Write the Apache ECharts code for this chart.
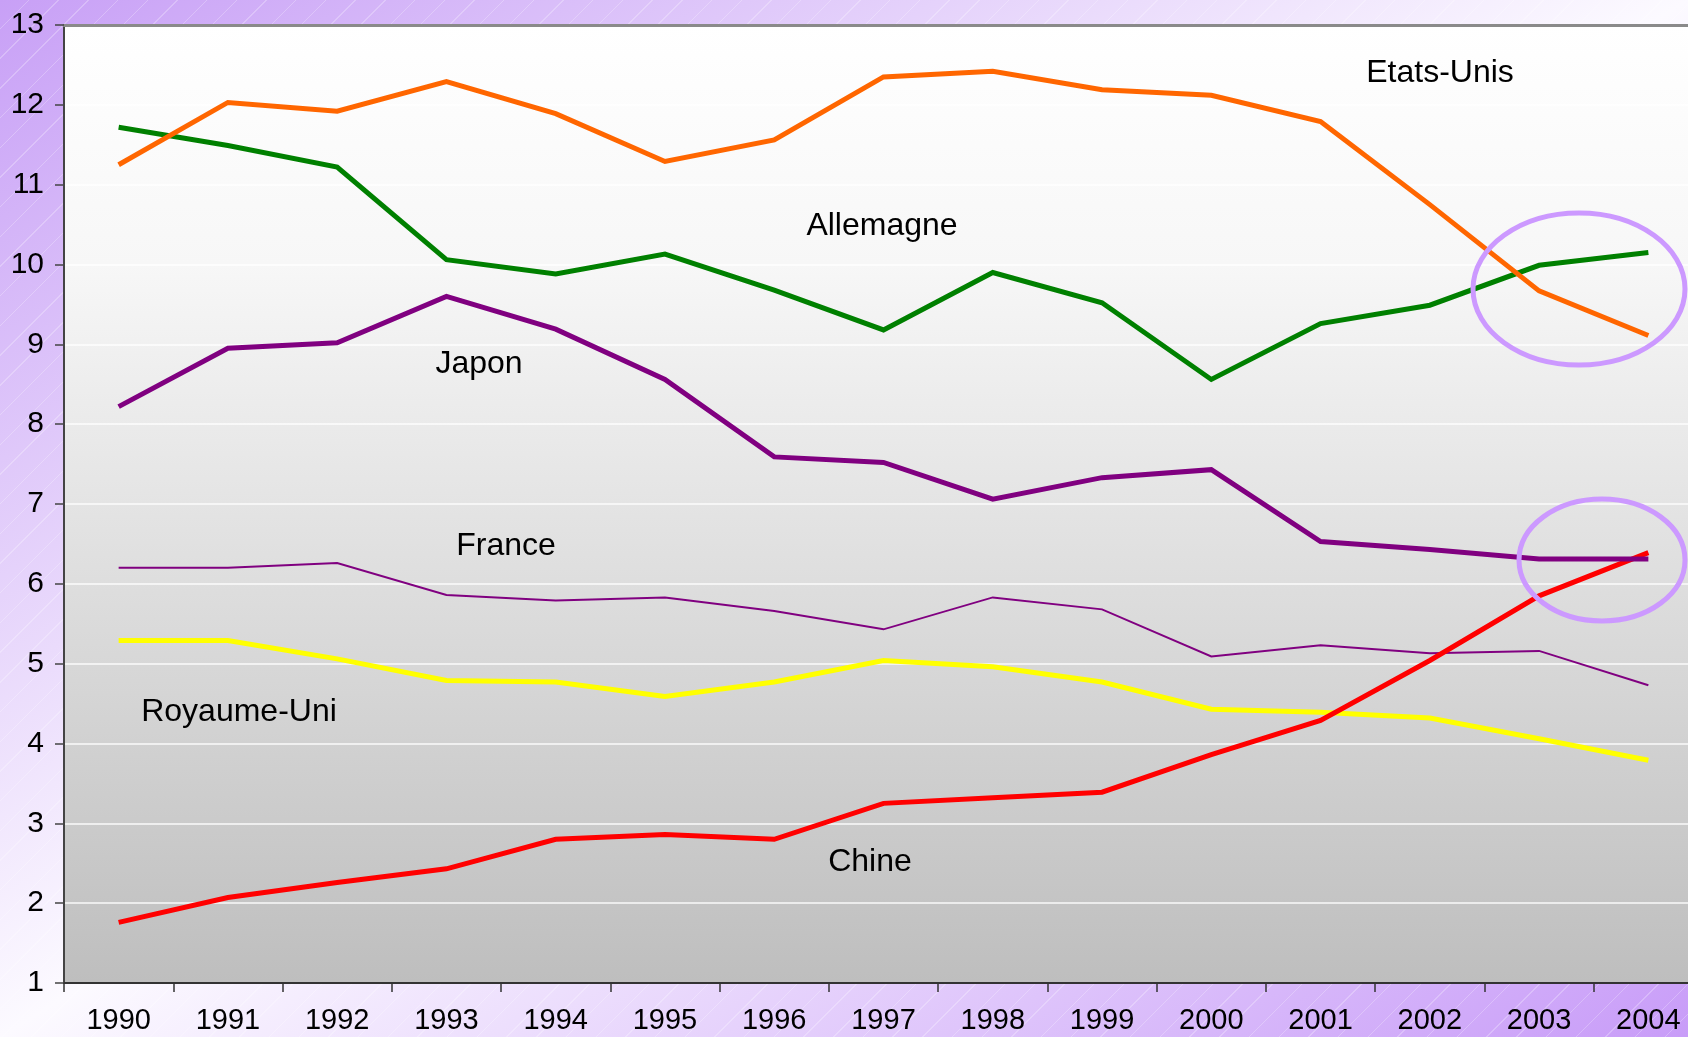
<!DOCTYPE html>
<html>
<head>
<meta charset="utf-8">
<script src="https://cdn.jsdelivr.net/npm/echarts@6/dist/echarts.min.js"></script>
<style>
  html, body { margin: 0; padding: 0; width: 1688px; height: 1037px; overflow: hidden; }
  body {
    background:
      repeating-linear-gradient(135deg, rgba(255,255,255,0) 0px, rgba(255,255,255,0) 20px, rgba(255,255,255,0.25) 20px, rgba(255,255,255,0.25) 21px),
      linear-gradient(to bottom right, #c8a0f6 0%, #fcfaff 50%, #c89cf8 100%);
  }
  #chart { width: 1703px; height: 1037px; }
</style>
</head>
<body>
<div id="chart"></div>
<script>
const years = ['1990','1991','1992','1993','1994','1995','1996','1997','1998','1999','2000','2001','2002','2003','2004'];
const etatsUnis  = [11.25,12.03,11.92,12.29,11.89,11.29,11.56,12.35,12.42,12.19,12.12,11.79,10.75,9.67,9.11];
const allemagne  = [11.72,11.49,11.22,10.06,9.88,10.13,9.68,9.18,9.90,9.52,8.56,9.26,9.49,9.99,10.15];
const japon      = [8.22,8.95,9.02,9.60,9.19,8.56,7.59,7.52,7.06,7.33,7.43,6.53,6.43,6.31,6.31];
const france     = [6.20,6.20,6.26,5.86,5.79,5.83,5.66,5.43,5.83,5.68,5.09,5.23,5.13,5.16,4.73];
const royaumeUni = [5.29,5.29,5.06,4.79,4.77,4.59,4.77,5.04,4.96,4.77,4.43,4.39,4.32,4.06,3.79];
const chine      = [1.76,2.07,2.26,2.43,2.80,2.86,2.80,3.25,3.32,3.39,3.86,4.29,5.04,5.85,6.39];
const seriesNames = ['Etats-Unis','Allemagne','Japon','France','Royaume-Uni','Chine'];

const FONT = '"Liberation Sans", Arial, Helvetica, sans-serif';
const chart = echarts.init(document.getElementById('chart'), null, { renderer: 'canvas' });

function lineSeries(name, data, color, width) {
  return {
    name: name, type: 'line', data: data, symbol: 'none', smooth: false,
    lineStyle: { color: color, width: width, join: 'miter', cap: 'butt' },
    itemStyle: { color: color },
    animation: false
  };
}

function label(text, x, y) {
  return {
    type: 'text', x: x, y: y, z: 100,
    style: { text: text, font: '32px ' + FONT, fill: '#000', align: 'center', verticalAlign: 'middle' }
  };
}

chart.setOption({
  animation: false,
  backgroundColor: 'transparent',
  grid: {
    left: 64, right: 0, top: 25, bottom: 54,
    outerBoundsMode: 'none', containLabel: false,
    show: true, borderWidth: 0,
    backgroundColor: {
      type: 'linear', x: 0, y: 0, x2: 0, y2: 1,
      colorStops: [{ offset: 0, color: '#ffffff' }, { offset: 0.25, color: '#f7f7f7' }, { offset: 1, color: '#bebebe' }]
    }
  },
  xAxis: [{
    type: 'category', data: years, boundaryGap: true, position: 'bottom',
    axisLine: { show: true, lineStyle: { color: '#333', width: 2 } },
    axisTick: { show: true, inside: false, length: 9, lineStyle: { color: '#333', width: 1.5 } },
    axisLabel: { color: '#000', fontSize: 29, fontFamily: FONT, margin: 23, interval: 0 },
    splitLine: { show: false }
  }, {
    type: 'category', data: years, position: 'top',
    axisLine: { show: true, lineStyle: { color: '#8a8a8a', width: 3 } },
    axisTick: { show: false }, axisLabel: { show: false }, splitLine: { show: false }
  }],
  yAxis: {
    type: 'value', min: 1, max: 13, interval: 1,
    axisLine: { show: true, lineStyle: { color: '#444', width: 2 } },
    axisTick: { show: true, inside: false, length: 9, lineStyle: { color: '#444', width: 1.5 } },
    axisLabel: { color: '#000', fontSize: 30, fontFamily: FONT, margin: 20 },
    splitLine: { show: true, lineStyle: { color: 'rgba(255,255,255,0.9)', width: 1.5 } }
  },
  series: [
    lineSeries(seriesNames[4], royaumeUni, '#ffff00', 5),
    lineSeries(seriesNames[3], france, '#800080', 2),
    lineSeries(seriesNames[5], chine, '#ff0000', 5),
    lineSeries(seriesNames[2], japon, '#800080', 5),
    lineSeries(seriesNames[1], allemagne, '#008000', 5),
    lineSeries(seriesNames[0], etatsUnis, '#ff6600', 5)
  ],
  graphic: [
    label('Etats-Unis', 1440, 73),
    label('Allemagne', 882, 226),
    label('Japon', 479, 364),
    label('France', 506, 546),
    label('Royaume-Uni', 239, 712),
    label('Chine', 870, 862),
    { type: 'ellipse', z: 101, shape: { cx: 1579, cy: 289, rx: 106, ry: 76 },
      style: { fill: 'none', stroke: '#cc99ff', lineWidth: 5 } },
    { type: 'ellipse', z: 101, shape: { cx: 1602, cy: 560, rx: 83, ry: 61 },
      style: { fill: 'none', stroke: '#cc99ff', lineWidth: 5 } }
  ]
});
</script>
</body>
</html>
